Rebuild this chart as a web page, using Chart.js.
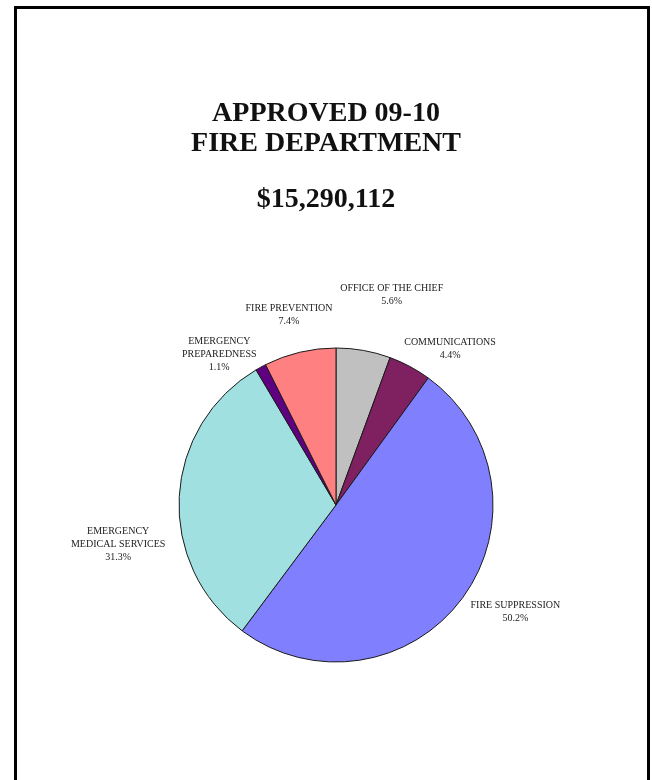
<!DOCTYPE html>
<html>
<head>
<meta charset="utf-8">
<script src="https://cdn.jsdelivr.net/npm/chart.js@4.4.0/dist/chart.umd.min.js"></script>
<style>
    html, body {
        margin: 0;
        padding: 0;
        background: #ffffff;
        overflow: hidden;
    }
    .frame {
        position: absolute;
        left: 14px;
        top: 6px;
        width: 636px;
        height: 820px;
        box-sizing: border-box;
        border: 3px solid #000;
        border-bottom: none;
    }
    #myChart {
        position: absolute;
        left: 0;
        top: 0;
    }
</style>
</head>
<body>
<div class="frame"></div>
<canvas id="myChart" width="652" height="780"></canvas>
<script>
// budget split, percent of $15,290,112
const categories = [
    ["OFFICE OF THE CHIEF"],
    ["COMMUNICATIONS"],
    ["FIRE SUPPRESSION"],
    ["EMERGENCY", "MEDICAL SERVICES"],
    ["EMERGENCY", "PREPAREDNESS"],
    ["FIRE PREVENTION"]
];
const shares = [5.6, 4.4, 50.2, 31.3, 1.1, 7.4];
const sliceColors = ["#c0c0c0", "#7f2060", "#8080ff", "#a0e0e0", "#5f0080", "#ff8080"];
const titleLines = ["APPROVED 09-10", "FIRE DEPARTMENT"];
const totalLabel = "$15,290,112";

// header text, drawn above the pie
const headerPlugin = {
    id: "header",
    afterDraw(chart, args, opts) {
        const ctx = chart.ctx;
        ctx.save();
        ctx.fillStyle = opts.color;
        ctx.font = opts.font;
        ctx.textAlign = "center";
        ctx.textBaseline = "alphabetic";
        opts.lines.forEach((line, i) => {
            ctx.fillText(line, opts.x, opts.y + i * opts.lineHeight);
        });
        ctx.fillText(opts.total, opts.x, opts.totalY);
        ctx.restore();
    }
};

// slice labels: name + percent, placed outside each slice
const sliceLabels = {
    id: "sliceLabels",
    afterDatasetsDraw(chart, args, opts) {
        const ctx = chart.ctx;
        const meta = chart.getDatasetMeta(0);
        const data = chart.data.datasets[0].data;
        ctx.save();
        ctx.fillStyle = opts.color;
        ctx.font = opts.font;
        ctx.textAlign = "center";
        ctx.textBaseline = "middle";
        meta.data.forEach((arc, i) => {
            const mid = (arc.startAngle + arc.endAngle) / 2;
            const r = arc.outerRadius * opts.distance;
            const nudge = opts.nudges[i] || [0, 0];
            const cx = arc.x + Math.cos(mid) * r + nudge[0];
            const cy = arc.y + Math.sin(mid) * r + nudge[1];
            const lines = chart.data.labels[i].concat([data[i].toFixed(1) + "%"]);
            const top = cy - (lines.length - 1) * opts.lineHeight / 2;
            lines.forEach((line, j) => {
                ctx.fillText(line, cx, top + j * opts.lineHeight);
            });
        });
        ctx.restore();
    }
};

new Chart("myChart", {
    type: "pie",
    data: {
        labels: categories,
        datasets: [{
            data: shares,
            backgroundColor: sliceColors,
            borderColor: "#1a1a1a",
            borderWidth: 1,
            hoverOffset: 0,
            radius: 157
        }]
    },
    options: {
        responsive: false,
        animation: false,
        events: [],
        layout: {
            padding: { left: 179, right: 159, top: 348, bottom: 118 }
        },
        plugins: {
            legend: { display: false },
            tooltip: { enabled: false },
            title: { display: false },
            header: {
                lines: titleLines,
                total: totalLabel,
                x: 326,
                y: 121,
                lineHeight: 30,
                totalY: 207,
                font: "bold 28px 'Liberation Serif', 'Times New Roman', serif",
                color: "#111"
            },
            sliceLabels: {
                distance: 1.3,
                lineHeight: 13,
                font: "10px 'Liberation Serif', 'Times New Roman', serif",
                color: "#222",
                nudges: [[20, -9], [18, 24], [15, -14], [-14, 50], [-19, 29], [0, 8]]
            }
        }
    },
    plugins: [headerPlugin, sliceLabels]
});
</script>
</body>
</html>
